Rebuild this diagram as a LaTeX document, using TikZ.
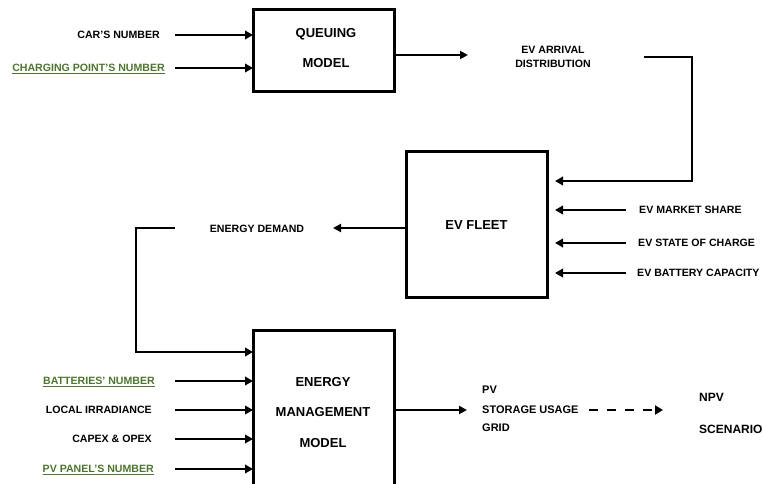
\documentclass[tikz,border=0pt]{standalone}
\usepackage{fontspec}
\setmainfont{Liberation Sans}
\usetikzlibrary{arrows.meta}
\definecolor{lgreen}{HTML}{4E7530}
\tikzset{
  box/.style={draw, line width=3pt, inner sep=0pt, outer sep=0pt},
  boxtxt/.style={inner sep=0pt, align=center, font=\bfseries\fontsize{13}{30.5}\selectfont},
  lab/.style={inner sep=0pt, text height=7.6pt, text depth=0pt, font=\bfseries\fontsize{10.6}{12.5}\selectfont},
  glab/.style={lab, text=lgreen},
  olab/.style={inner sep=0pt, text height=7.8pt, text depth=0pt, font=\bfseries\fontsize{11}{13}\selectfont},
  rlab/.style={inner sep=0pt, text height=8.5pt, text depth=0pt, font=\bfseries\fontsize{12}{14}\selectfont},
  inarrow/.style={line width=2.8pt, -{Triangle[length=8pt,width=8.5pt]}},
  outarrow/.style={line width=2.2pt, -{Triangle[length=8pt,width=8pt]}},
  fline/.style={line width=2.6pt},
  dasharrow/.style={line width=2.8pt, dash pattern=on 9pt off 9pt, -{Triangle[length=8pt,width=9pt]}}
}
\begin{document}
\begin{tikzpicture}[x=1pt,y=-1pt]
\useasboundingbox (0,0) rectangle (763,484);
\clip (0,0) rectangle (763,484);

% boxes
\node[box, minimum width=141pt, minimum height=82pt] (qm) at (323.5,51) {};
\node[boxtxt] (qmt) at (326,48) {QUEUING\\MODEL};
\node[box, minimum width=141pt, minimum height=145pt] (evf) at (476.5,224.5) {};
\node[boxtxt] (evft) at (476.5,225) {EV FLEET};
\node[box, minimum width=141pt, minimum height=180pt] (emm) at (323.5,420) {};
\node[boxtxt] (emmt) at (323,412.5) {ENERGY\\MANAGEMENT\\MODEL};

% queuing inputs
\node[lab, anchor=east] (car) at (160,35) {CAR'S NUMBER};
\node[glab, anchor=east] (cpn) at (165,68) {\underline{CHARGING POINT'S NUMBER}};
\draw[inarrow] ([xshift=15pt]car.east) -- (car.east -| qm.west);
\draw[inarrow] ([xshift=10pt]cpn.east) -- (cpn.east -| qm.west);

% queuing output
\node[lab, align=center, font=\bfseries\fontsize{10.6}{14}\selectfont] (ead) at (553,64) {EV ARRIVAL\\DISTRIBUTION};
\coordinate (eadin) at (468,55);
\draw[outarrow] (qm.east |- eadin) -- (eadin);
\coordinate (fb1) at (644,57);
\coordinate (fb2) at (692,57);
\coordinate (fbend) at (555,181);
\draw[fline, -{Triangle[length=8pt,width=8.5pt]}] (fb1) -- (fb2) -- (fb2 |- fbend) -- (fbend);

% EV fleet inputs
\node[lab, anchor=west] (ms) at (639,210) {EV MARKET SHARE};
\node[lab, anchor=west] (soc) at (638,243) {EV STATE OF CHARGE};
\node[lab, anchor=west] (bc) at (637,273) {EV BATTERY CAPACITY};
\draw[inarrow] ([xshift=-13pt]ms.west) -- ([xshift=8pt]evf.east |- ms.west);
\draw[inarrow] ([xshift=-12pt]soc.west) -- ([xshift=8pt]evf.east |- soc.west);
\draw[inarrow] ([xshift=-11pt]bc.west) -- ([xshift=8pt]evf.east |- bc.west);

% EV fleet output
\node[lab] (ed) at (257,229) {ENERGY DEMAND};
\coordinate (edin) at (333,228);
\draw[outarrow] (evf.west |- edin) -- (edin);
\coordinate (ed1) at (175,228);
\coordinate (ed2) at (136,228);
\coordinate (ed3) at (136,352);
\draw[fline, -{Triangle[length=8pt,width=8.5pt]}] (ed1) -- (ed2) -- (ed3) -- (ed3 -| emm.west);

% energy management inputs
\node[glab, anchor=east] (bn) at (155,381) {\underline{BATTERIES' NUMBER}};
\node[lab, anchor=east] (li) at (152,410) {LOCAL IRRADIANCE};
\node[lab, anchor=east] (co) at (152,439) {CAPEX \& OPEX};
\node[glab, anchor=east] (pv) at (154,469) {\underline{PV PANEL'S NUMBER}};
\draw[inarrow] ([xshift=20pt]bn.east) -- (bn.east -| emm.west);
\draw[inarrow] ([xshift=23pt]li.east) -- (li.east -| emm.west);
\draw[inarrow] ([xshift=23pt]co.east) -- (co.east -| emm.west);
\draw[inarrow] ([xshift=21pt]pv.east) -- (pv.east -| emm.west);

% energy management outputs
\node[olab, anchor=west] (opv) at (482,390) {PV};
\node[olab, anchor=west] (osu) at (482,410) {STORAGE USAGE};
\node[olab, anchor=west] (ogr) at (482,428) {GRID};
\coordinate (emout) at (467,410);
\draw[outarrow] (emm.east |- emout) -- (emout);
\node[rlab, anchor=west] (npv) at (699,397) {NPV};
\node[rlab, anchor=west] (sc) at (699,429) {SCENARIO};
\coordinate (dashend) at (663,410);
\draw[dasharrow] ([xshift=10pt]osu.east) -- (dashend);
\end{tikzpicture}
\end{document}
